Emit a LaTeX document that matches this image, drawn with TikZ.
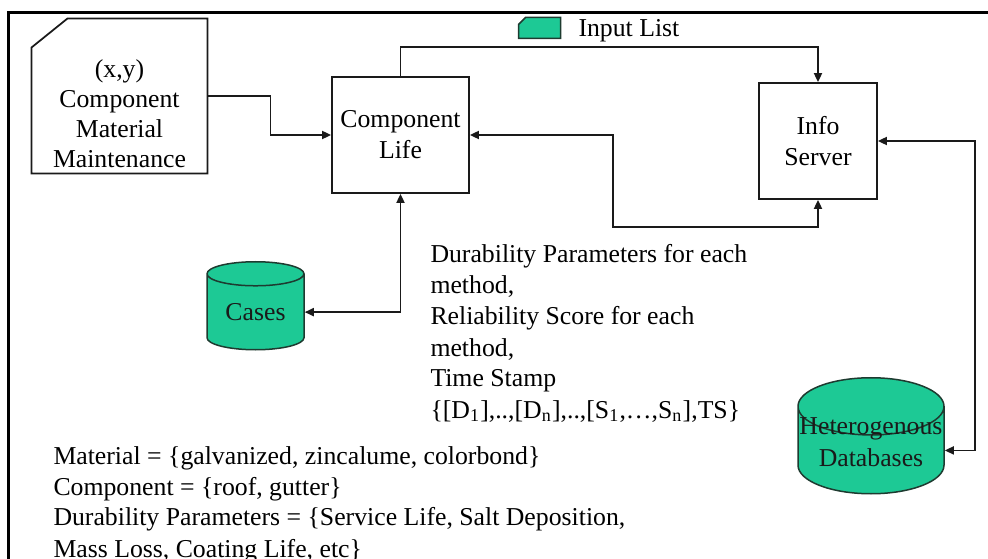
\documentclass[tikz,border=0pt]{standalone}
\usepackage{fontspec}
\setmainfont{Liberation Serif}
\usetikzlibrary{positioning,arrows.meta,shapes.geometric}
\definecolor{ink}{HTML}{1A1A1A}
\definecolor{dbgreen}{HTML}{1DC995}
\definecolor{dbline}{HTML}{1E3B30}

\begin{document}
\begin{tikzpicture}[
  x=0.4pt, y=-0.4pt,
  font=\fontsize{10.3}{12.4}\selectfont,
  box/.style  = {draw=ink, line width=0.7pt, inner sep=0pt, align=center},
  card/.style = {inner sep=0pt, minimum width=70pt, minimum height=61.6pt},
  db/.style   = {cylinder, shape border rotate=90, aspect=0.4, draw=dbline, fill=dbgreen,
                 line width=0.6pt, inner sep=0pt, align=center, text=ink, anchor=north},
  arr/.style  = {-{Triangle[length=3.6pt,width=3.2pt]}, draw=ink, line width=0.7pt},
  darr/.style = {{Triangle[length=3.6pt,width=3.2pt]}-{Triangle[length=3.6pt,width=3.2pt]}, draw=ink, line width=0.7pt},
  txt/.style  = {align=left, inner sep=0pt, anchor=base west},
]
\useasboundingbox (0,0) rectangle (988,559);

% ---------- frame ----------
\draw[line width=1.2pt] (8.5,559) -- (8.5,12.5) -- (988,12.5);

% ---------- inputs ----------
\node[card] (params) at (119.5,96) {};
\draw[box] (params.north west) ++(0,29) -- ++(36,-29) -- (params.north east)
  -- (params.south east) -- (params.south west) -- cycle;
\node[align=center, inner sep=0pt, font=\fontsize{10.3}{12}\selectfont] (paramslbl) at (119.5,114)
  {(x,y)\\Component\\Material\\Maintenance};

\node[inner sep=0pt, minimum width=16.4pt, minimum height=8pt] (inlist) at (539.5,28) {};
\draw[fill=dbgreen, draw=dbline, line width=0.6pt] (inlist.north west) ++(0,7) -- ++(7,-7)
  -- (inlist.north east) -- (inlist.south east) -- (inlist.south west) -- cycle;
\node[txt] (inlistlbl) at (578,37) {Input List};

% ---------- processes ----------
\node[box, minimum width=54.8pt, minimum height=46.4pt] (life) at (400.5,135) {Component\\Life};
\node[box, minimum width=47.2pt, minimum height=46.4pt] (info) at (818,141) {Info\\Server};

% ---------- stores ----------
\node[db, minimum width=38.8pt, minimum height=35.2pt] (cases) at (255.5,261) {Cases};
\node[db, minimum width=58.4pt, minimum height=46.4pt] (hetdb) at (871,377) {\phantom{Heterogenous}};
\node[align=center, inner sep=0pt, anchor=base, text=ink] (hetlbl) at (871,466)
  {Heterogenous\\Databases};

% ---------- arrows ----------
\coordinate (bend) at (613,227);
\draw[arr] (params.east) -- ++(63,0) |- (life.west);
\draw[arr] (life.north) -- ++(0,-29) -| (info.north);
\draw[darr] (life.east) -| (bend) -| (info.south);
\draw[darr] (life.south) |- (cases.east);
\draw[darr] (info.east) -- ++(97,0) |- (hetdb.east);

% ---------- notes ----------
\node[txt] (methods) at (430,418)
  {Durability Parameters for each\\ method,\\ Reliability Score for each\\ method,\\ Time Stamp\\
   \{[D\textsubscript{1}],..,[D\textsubscript{n}],..,[S\textsubscript{1},…,S\textsubscript{n}],TS\}};
\node[txt] (domains) at (53,557)
  {Material = \{galvanized, zincalume, colorbond\}\\ Component = \{roof, gutter\}\\
   Durability Parameters = \{Service Life, Salt Deposition,\\ Mass Loss, Coating Life, etc\}};

\end{tikzpicture}
\end{document}
